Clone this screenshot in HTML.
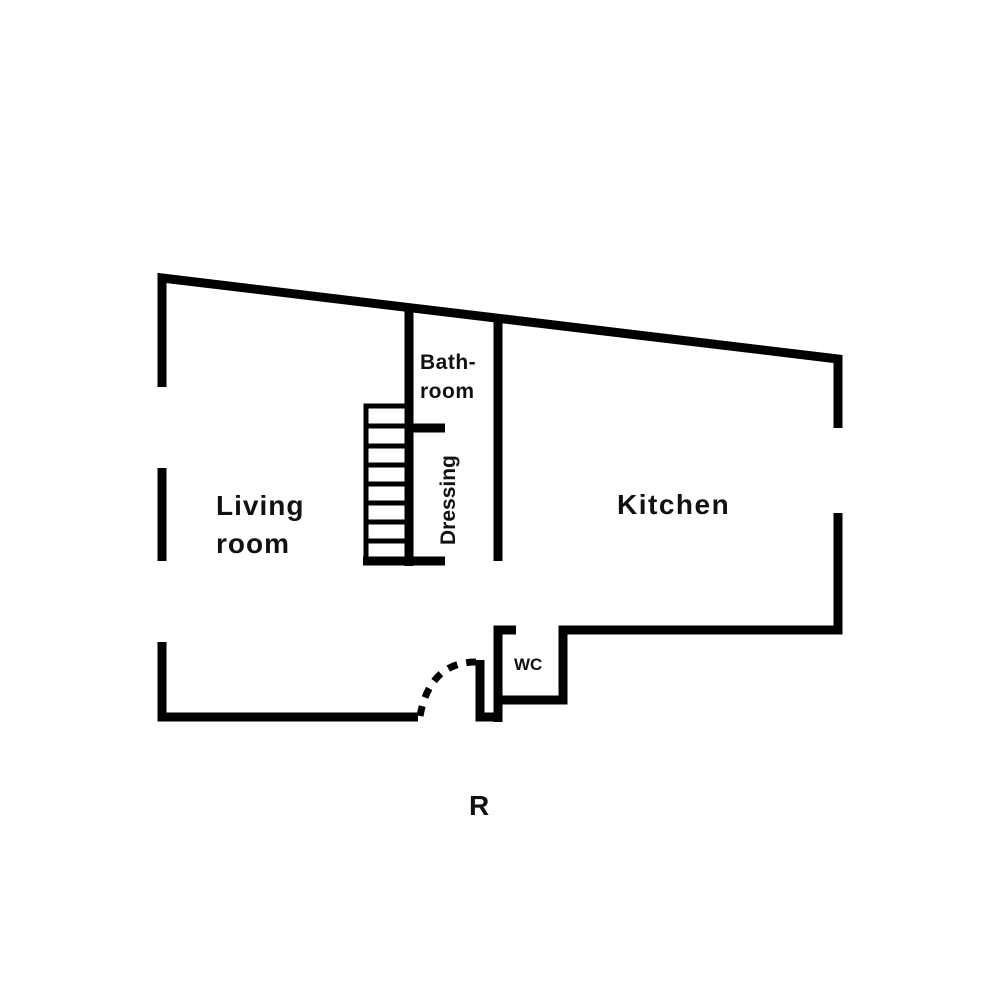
<!DOCTYPE html>
<html><head><style>html,body{margin:0;background:#fff}svg{display:block}</style></head><body>
<svg width="1000" height="1000" viewBox="0 0 1000 1000" xmlns="http://www.w3.org/2000/svg">
<g fill="none" stroke="#000" stroke-width="9" stroke-linecap="butt" stroke-linejoin="miter">
<polyline points="162,387 162,278 838,359 838,428"/>
<line x1="162" y1="468" x2="162" y2="561"/>
<polyline points="162,642 162,717 418,717"/>
<polyline points="838,513 838,630 563,630 563,700 498,700"/>
<polyline points="498,722 498,630 516,630"/>
<polyline points="480,660 480,717 500,717"/>
<line x1="409" y1="308" x2="409" y2="566"/>
<line x1="498" y1="319" x2="498" y2="561"/>
<line x1="409" y1="428" x2="445" y2="428"/>
<line x1="363" y1="561" x2="445" y2="561"/>
<path d="M420,716 Q430,662 476,662" stroke-dasharray="10,9" stroke-width="7"/>
</g>
<g fill="none" stroke="#000" stroke-width="5">
<polyline points="409,406 366,406 366,564"/>
<line x1="366" y1="426" x2="409" y2="426"/>
<line x1="366" y1="446" x2="409" y2="446"/>
<line x1="366" y1="465" x2="409" y2="465"/>
<line x1="366" y1="484" x2="409" y2="484"/>
<line x1="366" y1="503" x2="409" y2="503"/>
<line x1="366" y1="522" x2="409" y2="522"/>
<line x1="366" y1="541" x2="409" y2="541"/>
</g>
<g font-family="Liberation Sans, sans-serif" font-weight="bold" fill="#111">
<text x="216" y="515" font-size="28" letter-spacing="1">Living</text>
<text x="216" y="553" font-size="28" letter-spacing="1">room</text>
<text x="617" y="514" font-size="28" letter-spacing="1.5">Kitchen</text>
<text x="420" y="369" font-size="21" letter-spacing="0.5">Bath-</text>
<text x="420" y="398" font-size="21" letter-spacing="0.5">room</text>
<text transform="translate(455,545) rotate(-90)" font-size="21">Dressing</text>
<text x="514" y="670" font-size="17">WC</text>
<text x="469" y="815" font-size="28">R</text>
</g>
</svg>
</body></html>
